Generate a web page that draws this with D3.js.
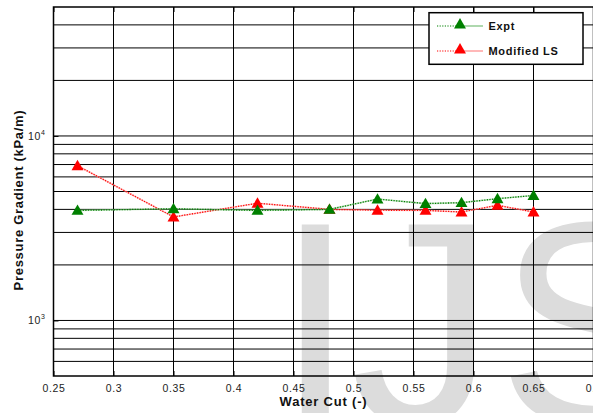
<!DOCTYPE html>
<html>
<head>
<meta charset="utf-8">
<script src="https://cdn.jsdelivr.net/npm/d3@7"></script>
<style>
  html, body { margin: 0; padding: 0; background: #fff; }
  svg { display: block; }
  text { font-family: "Liberation Sans", Arial, Helvetica, sans-serif; }
</style>
</head>
<body>
<svg id="chart" width="593" height="413"></svg>
<script>
// Water cut (fraction) at each measurement
const waterCut = [0.27, 0.35, 0.42, 0.48, 0.52, 0.56, 0.59, 0.62, 0.65];
// Measured pressure gradient, kPa/m
const exptGradient = [3950, 4030, 3950, 4000, 4550, 4300, 4350, 4570, 4760];
// Modified LS model prediction, kPa/m
const lsGradient = [6900, 3640, 4320, 4000, 3960, 3950, 3870, 4210, 3870];

const xTicks = [0.25, 0.3, 0.35, 0.4, 0.45, 0.5, 0.55, 0.6, 0.65, 0.7];
const xTickLabels = ["0.25", "0.3", "0.35", "0.4", "0.45", "0.5", "0.55", "0.6", "0.65", "0.7"];
const yTicks = [1000, 10000];
const yTickExponents = ["3", "4"];
const seriesNames = ["Expt", "Modified LS"];

const svg = d3.select("#chart");
const plot = { left: 53.5, right: 593.5, top: 7, bottom: 376 };

const x = d3.scaleLinear().domain([0.25, 0.7]).range([plot.left, plot.right]);
const y = d3.scaleLog().domain([500, 50000]).range([plot.bottom, plot.top]);

// Faint watermark lettering behind the axes
const wm = svg.append("text")
  .attr("x", 275).attr("y", 424)
  .attr("font-size", 290)
  .attr("fill", "#dcdcdc");
wm.append("tspan").text("I");
wm.append("tspan").attr("dx", -5).text("J");
wm.append("tspan").attr("dx", 2).text("S");

const g = svg.append("g");

// Grid: every 0.05 in x, every log minor step in y
const xGrid = d3.range(0.3, 0.7, 0.05);
const yGrid = [];
for (let d = 100; d <= 10000; d *= 10) {
  for (let k = 1; k <= 9; k++) {
    const v = d * k;
    if (v > 500 && v < 50000) yGrid.push(v);
  }
}
g.append("g").selectAll("line").data(xGrid).join("line")
  .attr("x1", d => x(d)).attr("x2", d => x(d))
  .attr("y1", plot.top).attr("y2", plot.bottom)
  .attr("stroke", "#000").attr("stroke-width", 1);
g.append("g").selectAll("line").data(yGrid).join("line")
  .attr("x1", plot.left).attr("x2", plot.right)
  .attr("y1", d => y(d)).attr("y2", d => y(d))
  .attr("stroke", "#000").attr("stroke-width", 1);

// Axes with inward ticks
const xAxis = d3.axisBottom(x).tickValues(xTicks)
  .tickFormat((d, i) => xTickLabels[i]).tickSizeInner(-5).tickSizeOuter(0).tickPadding(9);
const gx = g.append("g").attr("transform", `translate(0,${plot.bottom})`).call(xAxis);
gx.select(".domain").remove();
gx.selectAll(".tick line").attr("stroke", "#000");
gx.selectAll(".tick text")
  .attr("font-size", 10.5).attr("letter-spacing", 0.6)
  .attr("fill", "#222").attr("font-family", "Liberation Sans, Arial, sans-serif");

const gxTop = g.append("g").attr("transform", `translate(0,${plot.top})`)
  .call(d3.axisTop(x).tickValues(xTicks).tickFormat("").tickSizeInner(-5).tickSizeOuter(0));
gxTop.select(".domain").remove();

const yAxis = d3.axisLeft(y).tickValues(yTicks).tickFormat("").tickSizeInner(-5).tickSizeOuter(0);
const gy = g.append("g").attr("transform", `translate(${plot.left},0)`).call(yAxis);
gy.select(".domain").remove();

// Power-of-ten labels on the y axis
const yLab = g.append("g").selectAll("text").data(yTicks).join("text")
  .attr("x", plot.left - 8).attr("y", d => y(d) + 4)
  .attr("text-anchor", "end")
  .attr("font-size", 10.5).attr("letter-spacing", 0.6).attr("fill", "#222");
yLab.append("tspan").text("10");
yLab.append("tspan").attr("dy", -5).attr("font-size", 7).text((d, i) => yTickExponents[i]);

// Plot box
g.append("rect")
  .attr("x", plot.left).attr("y", plot.top)
  .attr("width", plot.right - plot.left).attr("height", plot.bottom - plot.top)
  .attr("fill", "none").attr("stroke", "#000").attr("stroke-width", 1.5);

// Series
const series = [
  { name: seriesNames[1], values: lsGradient, color: "#ff0000", soft: "#ff9a9a" },
  { name: seriesNames[0], values: exptGradient, color: "#008000", soft: "#8cc88c" }
];
const line = d3.line().x(d => x(d[0])).y(d => y(d[1]));
const tri = d3.symbol().type(d3.symbolTriangle).size(62);

series.forEach(s => {
  const pts = waterCut.map((w, i) => [w, s.values[i]]);
  g.append("path").datum(pts).attr("d", line)
    .attr("fill", "none").attr("stroke", s.soft).attr("stroke-width", 1.6).attr("opacity", 0.6);
  g.append("path").datum(pts).attr("d", line)
    .attr("fill", "none").attr("stroke", s.color).attr("stroke-width", 1.3)
    .attr("stroke-dasharray", "1.2,1.4");
  g.append("g").selectAll("path").data(pts).join("path")
    .attr("transform", d => `translate(${x(d[0])},${y(d[1]) + 1})`)
    .attr("d", tri).attr("fill", s.color);
});

// Axis titles
svg.append("text")
  .attr("x", (plot.left + plot.right) / 2).attr("y", 406)
  .attr("text-anchor", "middle").attr("font-size", 13).attr("font-weight", "bold")
  .attr("letter-spacing", 0.8).attr("fill", "#111")
  .text("Water Cut (-)");
svg.append("text")
  .attr("transform", "translate(23,200) rotate(-90)")
  .attr("text-anchor", "middle").attr("font-size", 13).attr("font-weight", "bold")
  .attr("letter-spacing", 0.7).attr("fill", "#111")
  .text("Pressure Gradient (kPa/m)");

// Legend
const lg = svg.append("g");
lg.append("rect").attr("x", 429).attr("y", 12.7).attr("width", 154).attr("height", 51.6)
  .attr("fill", "#fff").attr("stroke", "#000").attr("stroke-width", 1.5);
const legendItems = [
  { name: seriesNames[0], color: "#008000", soft: "#8cc88c", cy: 26 },
  { name: seriesNames[1], color: "#ff0000", soft: "#ff9a9a", cy: 51 }
];
legendItems.forEach(it => {
  lg.append("line").attr("x1", 437).attr("x2", 460).attr("y1", it.cy).attr("y2", it.cy)
    .attr("stroke", it.color).attr("stroke-width", 1.2).attr("stroke-dasharray", "1.2,1.4");
  lg.append("line").attr("x1", 460).attr("x2", 483).attr("y1", it.cy).attr("y2", it.cy)
    .attr("stroke", it.soft).attr("stroke-width", 1.4);
  lg.append("path").attr("transform", `translate(460,${it.cy - 1})`).attr("d", tri).attr("fill", it.color);
  lg.append("text").attr("x", 488.5).attr("y", it.cy + 4)
    .attr("font-size", 11).attr("font-weight", "bold").attr("letter-spacing", 0.7)
    .attr("fill", "#111").text(it.name);
});
</script>
</body>
</html>
